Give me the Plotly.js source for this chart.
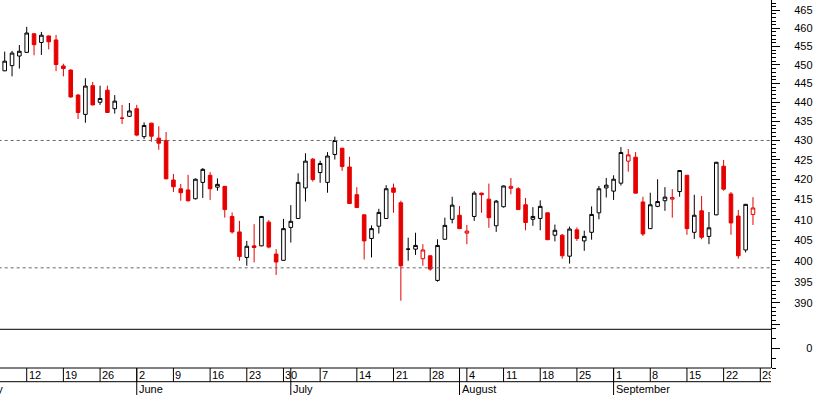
<!DOCTYPE html>
<html><head><meta charset="utf-8">
<script src="https://cdn.plot.ly/plotly-3.0.1.min.js"></script>
<style>html,body{margin:0;padding:0;background:#fff;}#chart{width:817px;height:395px;}</style>
</head><body><div id="chart"></div>
<script>
const dates = [
 '2003-05-07','2003-05-08','2003-05-09',
 '2003-05-12','2003-05-13','2003-05-14','2003-05-15','2003-05-16',
 '2003-05-19','2003-05-20','2003-05-21','2003-05-22','2003-05-23',
 '2003-05-26','2003-05-27','2003-05-28','2003-05-29','2003-05-30',
 '2003-06-02','2003-06-03','2003-06-04','2003-06-05','2003-06-06',
 '2003-06-09','2003-06-10','2003-06-11','2003-06-12','2003-06-13',
 '2003-06-16','2003-06-17','2003-06-18','2003-06-19','2003-06-20',
 '2003-06-23','2003-06-24','2003-06-25','2003-06-26','2003-06-27',
 '2003-06-30','2003-07-01','2003-07-02','2003-07-03','2003-07-04',
 '2003-07-07','2003-07-08','2003-07-09','2003-07-10','2003-07-11',
 '2003-07-14','2003-07-15','2003-07-16','2003-07-17','2003-07-18',
 '2003-07-21','2003-07-22','2003-07-23','2003-07-24','2003-07-25',
 '2003-07-28','2003-07-29','2003-07-30','2003-07-31','2003-08-01',
 '2003-08-04','2003-08-05','2003-08-06','2003-08-07','2003-08-08',
 '2003-08-11','2003-08-12','2003-08-13','2003-08-14','2003-08-15',
 '2003-08-18','2003-08-19','2003-08-20','2003-08-21','2003-08-22',
 '2003-08-25','2003-08-26','2003-08-27','2003-08-28','2003-08-29',
 '2003-09-01','2003-09-02','2003-09-03','2003-09-04','2003-09-05',
 '2003-09-08','2003-09-09','2003-09-10','2003-09-11','2003-09-12',
 '2003-09-15','2003-09-16','2003-09-17','2003-09-18','2003-09-19',
 '2003-09-22','2003-09-23','2003-09-24','2003-09-25','2003-09-26'
];
const open = [
 448.4,449.8,452.4,
 453.4,458.5,456.1,457.9,456.8,
 449.7,448.6,441.9,436.8,444.4,
 440.0,443.2,438.3,435.8,436.3,
 438.3,431.0,434.5,430.6,430.0,
 419.9,417.7,417.4,415.2,419.3,
 421.1,418.1,418.3,410.8,407.0,
 400.8,403.6,403.6,409.4,401.6,
 400.1,408.1,410.3,417.9,425.2,
 421.8,419.3,426.4,428.0,423.2,
 416.2,411.2,405.4,408.4,410.3,
 417.9,414.2,402.8,402.8,400.5,
 401.2,395.3,405.2,410.1,411.1,
 406.7,410.8,416.6,415.1,408.5,
 413.2,417.8,417.7,413.7,410.1,
 410.3,411.7,406.2,406.2,401.1,
 407.5,404.8,406.9,411.7,417.9,
 417.1,419.1,424.7,425.7,414.4,
 407.8,413.3,414.7,415.1,417.0,
 421.1,406.9,412.2,405.9,411.2,
 423.4,416.4,410.9,402.6,411.3
];
const high = [
 453.6,453.8,455.4,
 460.4,458.6,459.0,458.0,458.2,
 450.3,448.8,442.2,446.4,445.4,
 444.4,444.4,441.9,439.3,439.8,
 439.3,434.7,434.6,433.7,432.2,
 421.4,418.9,421.2,420.3,422.9,
 421.9,420.3,418.4,411.8,409.7,
 404.8,408.9,410.9,409.9,402.8,
 410.2,413.6,421.6,426.7,425.5,
 424.8,427.0,431.0,428.1,425.8,
 418.1,411.3,408.6,412.7,418.6,
 419.0,414.7,405.6,406.8,404.0,
 401.3,405.2,410.5,415.7,413.4,
 408.7,417.1,416.7,419.0,414.9,
 418.5,420.4,418.1,415.4,413.1,
 414.8,411.8,408.8,406.5,408.3,
 408.1,407.3,413.3,418.4,420.4,
 421.1,428.3,427.8,427.0,415.7,
 416.7,420.1,418.1,417.6,422.4,
 421.2,416.2,415.9,411.9,424.5,
 425.0,416.9,412.4,413.9,415.6
];
const low = [
 448.3,446.9,449.0,
 453.2,452.6,452.7,454.2,448.3,
 446.9,441.2,435.6,434.6,439.2,
 439.3,437.2,437.0,434.3,436.1,
 431.1,430.4,429.7,427.6,420.1,
 416.9,414.7,414.5,415.0,415.4,
 414.9,417.2,410.5,406.6,400.0,
 398.8,399.6,403.5,403.0,396.6,
 400.0,404.4,410.2,414.5,419.5,
 419.2,416.7,425.1,422.2,413.9,
 412.9,400.3,400.8,406.6,410.2,
 411.7,390.5,400.0,401.4,398.8,
 397.6,395.0,405.1,409.1,407.7,
 404.0,409.7,411.7,408.0,407.0,
 413.0,416.3,412.4,407.4,408.5,
 407.4,405.0,404.7,400.5,399.3,
 404.8,402.4,405.1,410.1,415.5,
 414.9,418.5,422.0,416.5,406.0,
 407.7,413.1,412.2,410.5,415.7,
 406.3,405.3,405.2,404.0,411.1,
 417.2,406.3,400.5,402.0,408.7
];
const close = [
 451.0,453.2,453.7,
 458.7,455.5,458.1,456.3,450.1,
 449.0,441.4,437.3,444.3,439.3,
 441.0,437.3,440.3,435.8,437.7,
 431.4,433.9,431.1,429.3,420.2,
 418.2,416.7,414.7,420.1,422.6,
 417.7,418.8,412.5,407.0,401.0,
 403.5,403.2,410.8,403.3,399.7,
 407.8,409.6,419.3,424.7,420.0,
 424.1,426.0,430.0,423.3,414.0,
 413.0,404.8,407.8,411.8,417.7,
 416.8,398.8,402.8,403.7,402.6,
 398.0,403.7,408.6,413.6,407.8,
 407.2,416.6,416.2,410.5,414.6,
 418.4,418.3,412.5,409.3,410.8,
 413.3,405.1,407.4,401.2,407.7,
 405.4,405.9,411.3,417.7,418.6,
 420.1,426.9,426.3,416.6,406.5,
 413.7,414.5,415.6,415.5,422.3,
 407.8,411.1,405.7,408.0,424.4,
 417.6,409.2,401.2,413.8,412.9
];
const levels = [430, 398.3];
const weekStarts = ['2003-05-12','2003-05-19','2003-05-26','2003-06-02','2003-06-09','2003-06-16','2003-06-23','2003-06-30','2003-07-07','2003-07-14','2003-07-21','2003-07-28','2003-08-04','2003-08-11','2003-08-18','2003-08-25','2003-09-01','2003-09-08','2003-09-15','2003-09-22','2003-09-29'];
const weekLabels = ['12','19','26','2','9','16','23','30','7','14','21','28','4','11','18','25','1','8','15','22','29'];
const monthStarts = ['2003-05-01','2003-06-02','2003-07-01','2003-08-01','2003-09-01'];
const monthLabels = ['May','June','July','August','September'];
const yTicks = [385,390,395,400,405,410,415,420,425,430,435,440,445,450,455,460,465];
const yTickText = ['','390','395','400','405','410','415','420','425','430','435','440','445','450','455','460','465'];

function dayNum(s){const p=s.split('-').map(Number);return Math.round(Date.UTC(p[0],p[1]-1,p[2])/864e5);}
function isWeekday(n){const w=new Date(n*864e5).getUTCDay();return w!==0&&w!==6;}
function tradingIndex(s){
  const a=dayNum(dates[0]), b=dayNum(s); let n=0;
  if(b>=a){for(let t=a+1;t<=b;t++) if(isWeekday(t)) n++;}
  else {for(let t=b;t<a;t++) if(isWeekday(t)) n--;}
  return n;
}

const xIdx = dates.map(d => tradingIndex(d));
const isRed = close.map((c,i) => i>0 && c < close[i-1]);
const pick = (arr, red) => arr.map((v,i) => isRed[i]===red ? v : null);

const RED = '#e60000';
const r0 = -0.6407, r1 = 104.457;
const plotW = 771, plotH = 368;
const pxPer = plotW/(r1-r0);
const sepY = (368-329.3)/plotH;
const dayBandBottom = -(381.7-368)/plotH;
const paperBottom = -27/plotH;
const dayLabelY = -(375.2-368)/plotH;
const monthLabelY = -(388.6-368)/plotH;

function candle(red){
  const col = red ? RED : '#000';
  return {
    type:'candlestick', x:xIdx,
    open:pick(open,red), high:pick(high,red), low:pick(low,red), close:pick(close,red),
    increasing:{line:{color:col,width:1}, fillcolor:'#ffffff'},
    decreasing:{line:{color:col,width:1}, fillcolor:col},
    whiskerwidth:0, showlegend:false, hoverinfo:'none', xaxis:'x', yaxis:'y'
  };
}

const traces = [];
levels.forEach(v => traces.push({type:'scatter', mode:'lines', x:[r0-1, r1+1], y:[v, v],
  line:{color:'#666666', width:1, dash:'3px,3px'}, hoverinfo:'skip', showlegend:false, xaxis:'x', yaxis:'y'}));
traces.push(candle(false));
traces.push(candle(true));
traces.push({type:'scatter', mode:'lines', x:[], y:[], xaxis:'x', yaxis:'y2', hoverinfo:'skip', showlegend:false});

const minorVals = [];
for(let v=384; v<=467; v++) if(v%5!==0) minorVals.push(v);

const shapes = [];
const lineStyle = {color:'#000', width:1};
shapes.push({type:'line', xref:'paper', yref:'paper', x0:0, x1:1, y0:sepY, y1:sepY, line:lineStyle});
shapes.push({type:'line', xref:'paper', yref:'paper', x0:0, x1:1, y0:0, y1:0, line:lineStyle});
shapes.push({type:'line', xref:'paper', yref:'paper', x0:0, x1:1, y0:dayBandBottom, y1:dayBandBottom, line:lineStyle});
const annotations = [];
const fnt = {family:'Liberation Sans, Arial, sans-serif', size:11, color:'#000'};
weekStarts.forEach((d,i) => {
  const xi = tradingIndex(d);
  shapes.push({type:'line', xref:'x', yref:'paper', x0:xi, x1:xi, y0:0, y1:dayBandBottom, line:lineStyle});
  const avail = (r1 - xi)*pxPer;
  const ann = {text:weekLabels[i], x:xi, xref:'x', y:dayLabelY, yref:'paper', xanchor:'left', yanchor:'middle',
    showarrow:false, font:fnt, borderpad:0, xshift:1};
  if(avail < 16){ ann.width = Math.max(4, avail-2); ann.align='left'; }
  annotations.push(ann);
});
monthStarts.forEach((d,i) => {
  const xi = tradingIndex(d);
  if(xi >= r0){
    shapes.push({type:'line', xref:'x', yref:'paper', x0:xi, x1:xi, y0:0, y1:paperBottom, line:lineStyle});
    annotations.push({text:monthLabels[i], x:xi, xref:'x', y:monthLabelY, yref:'paper', xanchor:'left', yanchor:'middle',
      showarrow:false, font:fnt, borderpad:0, xshift:1});
  } else {
    annotations.push({text:monthLabels[i], x:(xi-r0)/(r1-r0), xref:'paper', y:monthLabelY, yref:'paper', xanchor:'left', yanchor:'middle',
      showarrow:false, font:fnt, borderpad:0, xshift:6});
  }
});

const axCommon = {showgrid:false, zeroline:false, showline:true, linecolor:'#000', linewidth:1,
  ticks:'outside', tickwidth:1, tickcolor:'#000', tickfont:fnt, fixedrange:true, side:'right', anchor:'x'};

const layout = {
  width:817, height:395,
  margin:{l:0, r:46, t:0, b:27, pad:0},
  paper_bgcolor:'#ffffff', plot_bgcolor:'#ffffff',
  showlegend:false, boxmode:'overlay', boxgap:0.3,
  font:fnt,
  xaxis:{type:'linear', range:[r0, r1], showgrid:false, zeroline:false, showticklabels:false, ticks:'',
    showline:false, anchor:'y2', rangeslider:{visible:false}, fixedrange:true},
  yaxis:Object.assign({}, axCommon, {type:'log', domain:[sepY, 1], range:[Math.log10(383.85), Math.log10(467.9)],
    tickmode:'array', tickvals:yTicks, ticktext:yTickText, ticklen:8, ticklabelstandoff:12,
    minor:{tickmode:'array', tickvals:minorVals, ticks:'outside', ticklen:4, tickwidth:1, tickcolor:'#000', showgrid:false}}),
  yaxis2:Object.assign({}, axCommon, {type:'linear', domain:[0, sepY], range:[-2.0, 1.87],
    tickmode:'array', tickvals:[0], ticktext:['0'], ticklen:8, ticklabelstandoff:24,
    minor:{tickmode:'array', tickvals:[-2,-1,1], ticks:'outside', ticklen:4, tickwidth:1, tickcolor:'#000', showgrid:false}}),
  shapes:shapes, annotations:annotations
};

Plotly.newPlot('chart', traces, layout, {displayModeBar:false, staticPlot:true});
</script></body></html>
